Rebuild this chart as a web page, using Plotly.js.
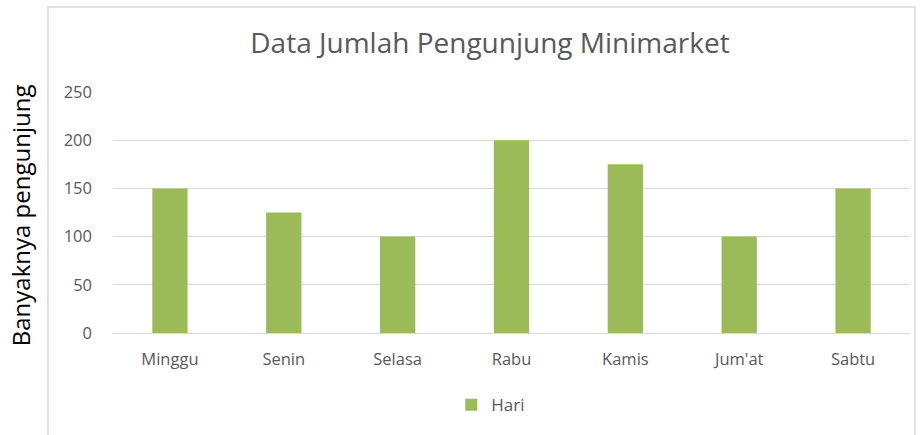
<!DOCTYPE html>
<html>
<head>
<meta charset="utf-8">
<script src="https://cdn.plot.ly/plotly-3.0.1.min.js"></script>
<style>
  html, body { margin: 0; padding: 0; background: #fff; }
  #chart { width: 920px; height: 435px; }
</style>
</head>
<body>
<div id="chart"></div>
<script>
// data
var days = ["Minggu", "Senin", "Selasa", "Rabu", "Kamis", "Jum'at", "Sabtu"];
var visitors = [150, 125, 100, 200, 175, 100, 150];
var yTicks = [0, 50, 100, 150, 200, 250];

var green = "#9bbb59";
var gray = "#595959";

var trace = {
    x: days,
    y: visitors,
    type: 'bar',
    name: 'Hari',
    marker: { color: green },
    hoverinfo: 'x+y'
};

var layout = {
    width: 920,
    height: 435,
    margin: { l: 113, r: 10, t: 92, b: 102 },
    paper_bgcolor: '#fff',
    plot_bgcolor: '#fff',
    font: { family: 'Open Sans, sans-serif', color: gray, size: 16 },
    title: {
        text: 'Data Jumlah Pengunjung Minimarket',
        font: { size: 28, color: gray },
        xref: 'paper', x: 0.473, xanchor: 'center',
        yref: 'container', y: 0.9, yanchor: 'middle'
    },
    bargap: 0.69,
    xaxis: {
        showgrid: false,
        showline: false,
        zeroline: false,
        ticks: '',
        ticklabelstandoff: 14,
        tickfont: { size: 16.5, color: gray },
        fixedrange: true
    },
    yaxis: {
        range: [0, 250],
        tickvals: yTicks,
        showgrid: true,
        gridcolor: '#d9d9d9',
        gridwidth: 1,
        zeroline: true,
        zerolinecolor: '#d9d9d9',
        zerolinewidth: 1,
        showline: false,
        ticks: '',
        ticklabelstandoff: 20,
        tickfont: { size: 16.5, color: gray },
        fixedrange: true
    },
    showlegend: true,
    legend: {
        orientation: 'h',
        x: 0.474, xanchor: 'center',
        y: -0.3, yanchor: 'middle',
        font: { size: 17, color: gray },
        itemwidth: 30
    },
    annotations: [{
        text: 'Banyaknya pengunjung',
        textangle: -90,
        xref: 'paper', yref: 'paper',
        x: -0.115, y: 0.49,
        xanchor: 'center', yanchor: 'middle',
        showarrow: false,
        font: { size: 24, color: '#000' }
    }],
    shapes: [{
        type: 'rect',
        xref: 'paper', yref: 'paper',
        x0: -0.0816, x1: 1.0063,
        y0: -0.46, y1: 1.353,
        line: { color: '#d9d9d9', width: 1.5 },
        layer: 'below'
    }]
};

Plotly.newPlot('chart', [trace], layout, { displayModeBar: false, staticPlot: true });
</script>
</body>
</html>
